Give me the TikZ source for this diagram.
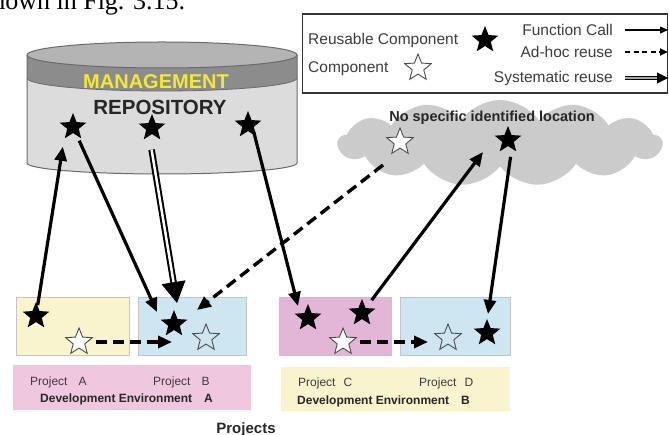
\documentclass[tikz,border=0pt]{standalone}
\usepackage{fontspec}
\setmainfont{Liberation Sans}
\newfontfamily\pageserif{Liberation Serif}
\usetikzlibrary{shapes.geometric,shapes.symbols,arrows.meta,calc}

\definecolor{cylTop}{HTML}{B4B4B4}
\definecolor{cylBand}{HTML}{8C8C8C}
\definecolor{cylBody}{HTML}{DCDCDC}
\definecolor{cylEdge}{HTML}{6A6A6A}
\definecolor{mgmtYellow}{HTML}{F2E835}
\definecolor{cloudGray}{HTML}{CBCBCB}
\definecolor{paleYellow}{HTML}{F9F4CD}
\definecolor{paleBlue}{HTML}{CEE6F2}
\definecolor{rosePink}{HTML}{E3B5D7}
\definecolor{palePink}{HTML}{EFC8E0}
\definecolor{boxEdge}{HTML}{C4C4C4}
\definecolor{labelGray}{HTML}{3C3C3C}

\tikzset{
  rstar/.style={star, star points=5, star point ratio=2.3, minimum size=28pt,
    inner sep=0pt, fill=black},
  cstar/.style={star, star points=5, star point ratio=2.3, minimum size=28pt,
    inner sep=0pt, draw=black!70, line width=0.9pt},
  projbox/.style={rectangle, draw=boxEdge, line width=0.8pt, minimum height=58pt,
    inner sep=0pt},
  envbox/.style={rectangle, inner sep=0pt},
  plabel/.style={anchor=base west, inner sep=0pt, text=labelGray,
    font=\fontsize{12}{14}\selectfont},
  elabel/.style={anchor=base west, inner sep=0pt, text=black!85,
    font=\bfseries\fontsize{12}{14}\selectfont},
  legtext/.style={inner sep=0pt, text=labelGray, font=\fontsize{15.5}{18}\selectfont},
  fcall/.style={line width=3.2pt, -{Triangle[length=14pt,width=12pt]}},
  adhoc/.style={line width=3.4pt, dash pattern=on 11pt off 6pt,
    -{Triangle[length=14pt,width=12pt]}},
  sysline/.style={line width=2pt, double=white, double distance=2.5pt},
  syshead/.style={line width=1pt, -{Triangle[length=21pt,width=24pt]}},
}

\begin{document}
\begin{tikzpicture}[x=1pt,y=-1pt]
\useasboundingbox (0,0) rectangle (669,435);

% running text of the page above the figure
\node[anchor=base west, inner sep=0pt, font=\pageserif\fontsize{26}{30}\selectfont]
  (pagetext) at (-18,10) {shown in Fig. 3.15.};

% ---------- repository cylinder ----------
\fill[cylBody] (27,78) -- (27,163) arc[start angle=180, end angle=0, x radius=135, y radius=11]
  -- (297,78) arc[start angle=0, end angle=180, x radius=135, y radius=13] -- cycle;
\fill[cylBand] (27,55) -- (27,78) arc[start angle=180, end angle=0, x radius=135, y radius=13]
  -- (297,55) arc[start angle=0, end angle=180, x radius=135, y radius=13] -- cycle;
\draw[cylEdge, line width=1pt] (27,55) -- (27,163)
  arc[start angle=180, end angle=0, x radius=135, y radius=11] -- (297,55);
\draw[cylEdge, line width=0.8pt] (27,78) arc[start angle=180, end angle=0, x radius=135, y radius=13];
\filldraw[fill=cylTop, draw=cylEdge, line width=1pt] (162,55) ellipse[x radius=135, y radius=13];

\node[inner sep=0pt, text=mgmtYellow, font=\bfseries\fontsize{20}{24}\selectfont]
  (mgmt) at (156,82) {MANAGEMENT};
\node[inner sep=0pt, text=black!85, font=\bfseries\fontsize{20.5}{24}\selectfont]
  (repo) at (160,107) {REPOSITORY};

\node[rstar] (R1) at (73,127) {};
\node[rstar] (R2) at (152,128) {};
\node[rstar] (R3) at (248,125) {};

% ---------- legend ----------
\node[rectangle, draw=black!80, line width=1.8pt, minimum width=365pt, minimum height=79pt,
  inner sep=0pt] (legend) at (485,53.5) {};
\node[legtext, anchor=base west] (lgReuse) at (308,45) {Reusable Component};
\node[rstar] (lgStarF) at (485,40) {};
\node[legtext, anchor=base west] (lgComp) at (308,73) {Component};
\node[cstar, fill=white] (lgStarC) at (418,68) {};
\node[legtext, anchor=base east] (lgCall) at (613,36) {Function Call};
\node[legtext, anchor=base east] (lgAdhoc) at (613,58) {Ad-hoc reuse};
\node[legtext, anchor=base east] (lgSys) at (613,83) {Systematic reuse};
\coordinate (callS) at (625,30);  \coordinate (callE) at (668,30);
\coordinate (adhS) at (625,52);   \coordinate (adhE) at (668,52);
\coordinate (sysLS) at (625,78);  \coordinate (sysLE) at (668,78);
\draw[line width=1.3pt, -{Triangle[length=8pt,width=7pt]}] (callS) -- (callE);
\draw[line width=2pt, dash pattern=on 5pt off 3.5pt, -{Triangle[length=8pt,width=7pt]}] (adhS) -- (adhE);
\draw[line width=1pt, double=gray!70, double distance=2.6pt, shorten >=9pt] (sysLS) -- (sysLE);
\draw[line width=1pt, -{Triangle[length=11pt,width=11pt]}] ($(sysLE)!11pt!(sysLS)$) -- (sysLE);

% ---------- cloud ----------
\node[cloud, cloud puffs=13, cloud puff arc=110, cloud ignores aspect, fill=cloudGray,
  minimum width=324pt, minimum height=86pt, inner sep=0pt] (cloud) at (500,143) {};
\node[inner sep=0pt, text=black!85, font=\bfseries\fontsize{14.5}{17}\selectfont]
  (cloudTxt) at (492,118) {No specific identified location};
\node[cstar, fill=white] (CH) at (400,142) {};
\node[rstar] (CF) at (508,140) {};

% ---------- project boxes ----------
\node[projbox, fill=paleYellow, minimum width=113pt] (pA) at (72.5,326) {};
\node[projbox, fill=paleBlue, minimum width=108pt] (pB) at (192,326) {};
\node[projbox, fill=rosePink, minimum width=112pt] (pC) at (335,326) {};
\node[projbox, fill=paleBlue, minimum width=110pt] (pD) at (455,326) {};

\node[envbox, fill=palePink, minimum width=238pt, minimum height=45pt] (envA) at (132,387.5) {};
\node[envbox, fill=paleYellow, minimum width=229pt, minimum height=44pt] (envB) at (395.5,389) {};

\node[plabel] (lblA) at (30,385) {Project\hspace{11pt}A};
\node[plabel] (lblB) at (153,385) {Project\hspace{11pt}B};
\node[elabel] (lblEA) at (40,402.5) {Development Environment\hspace{12pt}A};
\node[plabel] (lblC) at (298,386) {Project\hspace{8pt}C};
\node[plabel] (lblD) at (419,386) {Project\hspace{8pt}D};
\node[elabel] (lblEB) at (297,404.5) {Development Environment\hspace{12pt}B};
\node[inner sep=0pt, anchor=base, text=black!85, font=\bfseries\fontsize{15}{18}\selectfont]
  (projects) at (246,433) {Projects};

% stars inside the projects
\node[rstar] (AF) at (36,316) {};
\node[cstar, fill=white] (AH) at (79,342) {};
\node[rstar] (BF) at (174,324) {};
\node[cstar] (BH) at (206,338) {};
\node[rstar] (CF1) at (308,318) {};
\node[rstar] (CF2) at (362,313) {};
\node[cstar, fill=white] (CHl) at (343,342) {};
\node[cstar] (DH) at (448,338) {};
\node[rstar] (DF) at (487,333) {};

% ---------- connectors ----------
% function calls
\draw[fcall, shorten <=11pt, shorten >=20pt] (AF.center) -- ($(R1.center)+(-7,0)$);
\draw[fcall, shorten <=15pt] (R1.center) -- ($(BF.center)+(-17,-12)$);
\draw[fcall, shorten <=6pt] ($(R3.center)+(4,0)$) -- ($(CF1.center)+(-10,-12)$);
\draw[fcall, shorten <=16pt] (CF2.center) -- ($(CF.center)+(-25,12)$);
\draw[fcall, shorten <=17pt] ($(CF.center)+(5,0)$) -- ($(DF.center)+(1,-19)$);

% systematic reuse
\coordinate (sysS) at ($(R2.center)+(-4,0)$);
\coordinate (sysE) at ($(BF.center)+(3,-21)$);
\draw[sysline, shorten <=22pt, shorten >=18pt] (sysS) -- (sysE);
\draw[syshead] ($(sysE)!21pt!(sysS)$) -- (sysE);

% ad-hoc reuse
\draw[adhoc] ($(CH.center)+(-17,23)$) -- ($(BF.center)+(23,-14)$);
\draw[adhoc, shorten <=17pt] (AH.center) -- ($(BF.center)+(-2,18)$);
\draw[adhoc, shorten <=17pt] (CHl.center) -- ($(DH.center)+(-20,4)$);

\end{tikzpicture}
\end{document}
